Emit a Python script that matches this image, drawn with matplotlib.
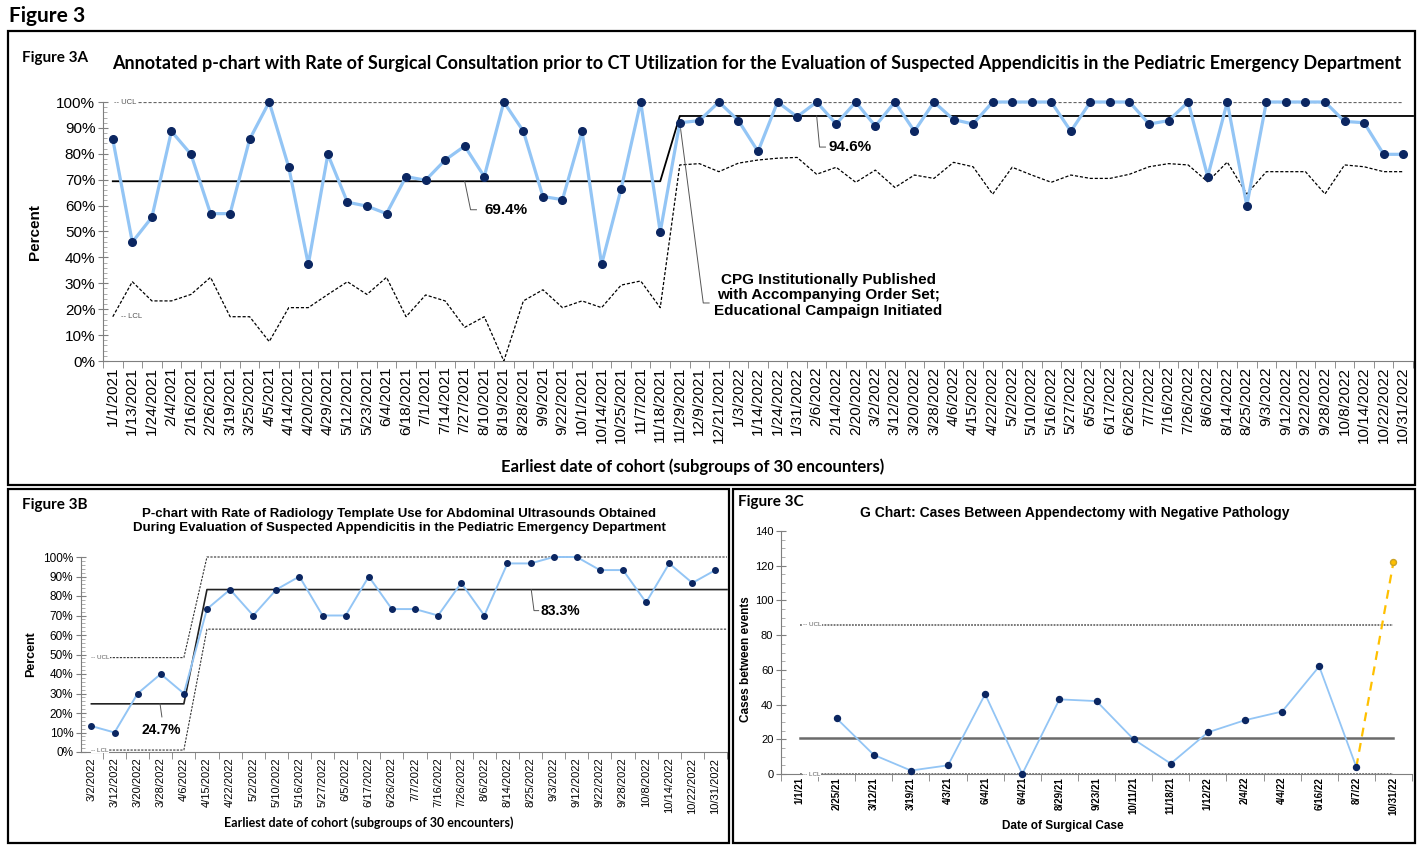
import numpy as np
import matplotlib
matplotlib.use('Agg')
import matplotlib.pyplot as plt
from matplotlib.patches import Rectangle
from matplotlib.ticker import MultipleLocator, FixedLocator, PercentFormatter

W, H = 1422, 846

# ---- Figure 3A data ----
a_dates = ['1/1/2021', '1/13/2021', '1/24/2021', '2/4/2021', '2/16/2021', '2/26/2021', '3/19/2021',
           '3/25/2021', '4/5/2021', '4/14/2021', '4/20/2021', '4/29/2021', '5/12/2021', '5/23/2021',
           '6/4/2021', '6/18/2021', '7/1/2021', '7/14/2021', '7/27/2021', '8/10/2021', '8/19/2021',
           '8/28/2021', '9/9/2021', '9/22/2021', '10/1/2021', '10/14/2021', '10/25/2021', '11/7/2021',
           '11/18/2021', '11/29/2021', '12/9/2021', '12/21/2021', '1/3/2022', '1/14/2022', '1/24/2022',
           '1/31/2022', '2/6/2022', '2/14/2022', '2/20/2022', '3/2/2022', '3/12/2022', '3/20/2022',
           '3/28/2022', '4/6/2022', '4/15/2022', '4/22/2022', '5/2/2022', '5/10/2022', '5/16/2022',
           '5/27/2022', '6/5/2022', '6/17/2022', '6/26/2022', '7/7/2022', '7/16/2022', '7/26/2022',
           '8/6/2022', '8/14/2022', '8/25/2022', '9/3/2022', '9/12/2022', '9/22/2022', '9/28/2022',
           '10/8/2022', '10/14/2022', '10/22/2022', '10/31/2022']
a_rate = [85.6, 45.9, 55.5, 88.7, 79.8, 56.9, 56.9, 85.6, 100, 74.8,
          37.3, 79.8, 61.3, 59.8, 56.9, 71.2, 69.8, 77.6, 83.0, 71.2,
          100, 88.7, 63.5, 62.3, 88.7, 37.3, 66.5, 100, 49.8, 92.0,
          92.8, 100, 92.8, 80.9, 100, 94.3, 100, 91.5, 100, 90.7,
          100, 88.7, 100, 93.2, 91.5, 100, 100, 100, 100, 88.7,
          100, 100, 100, 91.5, 92.8, 100, 71.2, 100, 60.0, 100,
          100, 100, 100, 92.5, 92.0, 79.8, 79.8]
a_lcl = [17.1, 30.6, 23.2, 23.2, 25.7, 32.3, 17.1, 17.1, 7.5, 20.6,
         20.6, 25.7, 30.6, 25.7, 32.3, 17.1, 25.5, 23.2, 13.0, 17.1,
         0.0, 23.2, 27.5, 20.6, 23.2, 20.6, 29.3, 30.9, 20.6, 75.7,
         76.2, 73.1, 76.4, 77.6, 78.3, 78.6, 72.1, 74.8, 69.0, 73.7,
         67.0, 71.8, 70.5, 76.7, 75.0, 64.4, 74.8, 71.8, 69.0, 71.8,
         70.5, 70.5, 72.1, 75.0, 76.2, 75.7, 69.2, 76.8, 64.5, 73.1,
         73.1, 73.1, 64.5, 75.7, 75.0, 73.1, 73.1]
a_ucl = 100
a_cl = [69.4, 94.6]
a_shift = 29

# ---- Figure 3B data ----
b_dates = ['3/2/2022', '3/12/2022', '3/20/2022', '3/28/2022', '4/6/2022', '4/15/2022', '4/22/2022',
           '5/2/2022', '5/10/2022', '5/16/2022', '5/27/2022', '6/5/2022', '6/17/2022', '6/26/2022',
           '7/7/2022', '7/16/2022', '7/26/2022', '8/6/2022', '8/14/2022', '8/25/2022', '9/3/2022',
           '9/12/2022', '9/22/2022', '9/28/2022', '10/8/2022', '10/14/2022', '10/22/2022', '10/31/2022']
b_rate = [13.3, 10, 30, 40, 30, 73.3, 83.3, 70, 83.3, 90, 70, 70, 90, 73.3,
          73.3, 70, 86.7, 70, 96.7, 96.7, 100, 100, 93.3, 93.3, 76.7, 96.7, 86.7, 93.3]
b_cl = [24.7, 83.3]
b_ucl = [48.4, 100]
b_lcl = [1.0, 63.0]
b_shift = 5

# ---- Figure 3C data ----
c_dates = ['1/1/21', '2/25/21', '3/12/21', '3/19/21', '4/3/21', '6/4/21', '6/4/21', '8/29/21',
           '9/23/21', '10/11/21', '11/18/21', '1/12/22', '2/4/22', '4/4/22', '6/16/22', '8/7/22',
           '10/31/22']
c_cases = [np.nan, 32, 11, 2, 5, 46, 0, 43, 42, 20, 6, 24, 31, 36, 62, 4]
c_current = 122
c_cl = 21
c_ucl = 86
c_lcl = 0

LINE = '#93C5F5'
DOT = '#0B2661'
CALIBRI = ['Lato', 'DejaVu Sans']
ARIAL = ['Liberation Sans', 'DejaVu Sans']


def px(x, y):
    return x / W, 1 - y / H


def add_axes(x0, y0, x1, y1):
    l, t = px(x0, y0)
    r, b = px(x1, y1)
    return fig.add_axes([l, b, r - l, t - b])


def style_axes(ax, n, labels, lab_size, lab_weight='normal', pad=4):
    for s in ['top', 'right']:
        ax.spines[s].set_visible(False)
    for s in ['left', 'bottom']:
        ax.spines[s].set_color('#7f7f7f')
    ax.set_xticks(range(n))
    ax.set_xticklabels(labels, rotation=90, fontsize=lab_size, family=ARIAL, weight=lab_weight)
    ax.tick_params(axis='x', length=0, pad=pad)
    ax.xaxis.set_minor_locator(FixedLocator(np.arange(n + 1) - 0.5))
    ax.tick_params(axis='x', which='minor', length=5, direction='out', color='#7f7f7f')
    ax.tick_params(axis='y', which='major', direction='inout', length=7, color='#7f7f7f', pad=2)
    ax.tick_params(axis='y', which='minor', direction='in', length=3, color='#a0a0a0')


def limit_label(ax, x, y, txt, size):
    ax.text(x, y, '-- ' + txt, fontsize=size, color='#555555', family=ARIAL, va='center', ha='left',
            bbox=dict(facecolor='white', edgecolor='none', pad=0.3), zorder=3)


fig = plt.figure(figsize=(W / 100, H / 100), dpi=100)

# panel frames
for (x0, y0, x1, y1) in [(8, 31, 1415, 485), (8, 489, 729, 843), (733, 489, 1415, 843)]:
    l, t = px(x0, y0)
    r, b = px(x1, y1)
    fig.add_artist(Rectangle((l, b), r - l, t - b, transform=fig.transFigure,
                             fill=False, edgecolor='black', lw=1.6))

fig.text(*px(9, 16), 'Figure 3', fontsize=15, weight='bold', family=CALIBRI, va='center')

# ================= Figure 3A =================
ax = add_axes(103, 102, 1413, 361)
na = len(a_dates)
xa = np.arange(na)
ax.plot(xa, a_lcl, color='black', ls=(0, (2.5, 1.5)), lw=0.9, zorder=1)
ax.plot(xa, [a_ucl] * na, color='#666666', ls=(0, (2.5, 1.5)), lw=0.9, zorder=1)
cl_x = [0, a_shift - 1, a_shift, na - 0.5]
cl_y = [a_cl[0], a_cl[0], a_cl[1], a_cl[1]]
ax.plot(cl_x, cl_y, color='black', lw=1.3, zorder=2, clip_on=False)
ax.plot(xa, a_rate, color=LINE, lw=2.3, marker='o', markersize=5.5, markerfacecolor=DOT,
        markeredgecolor=DOT, zorder=4, clip_on=False)
ax.set_xlim(-0.5, na - 0.5)
ax.set_ylim(0, 100)
ax.yaxis.set_major_locator(MultipleLocator(10))
ax.yaxis.set_minor_locator(MultipleLocator(2))
ax.yaxis.set_major_formatter(PercentFormatter(decimals=0))
style_axes(ax, na, a_dates, 11)
for t in ax.get_yticklabels():
    t.set_fontsize(11)
    t.set_family(ARIAL)
limit_label(ax, 0.05, a_ucl, 'UCL', 5.5)
limit_label(ax, 0.4, a_lcl[0], 'LCL', 5.5)
# annotations
ax.plot([18.0, 18.3, 18.6], [a_cl[0], 58.4, 58.4], color='#555555', lw=0.7)
ax.text(19.0, 58.4, '69.4%', fontsize=11, weight='bold', family=ARIAL, va='center')
ax.plot([36.0, 36.15, 36.45], [a_cl[1], 82.6, 82.6], color='#555555', lw=0.7)
ax.text(36.6, 82.6, '94.6%', fontsize=11, weight='bold', family=ARIAL, va='center')
ax.plot([a_shift, 30.2, 30.5], [a_rate[a_shift], 22.4, 22.4], color='#555555', lw=0.7, zorder=3)
ax.text(36.6, 25.3, 'CPG Institutionally Published\nwith Accompanying Order Set;\nEducational Campaign Initiated',
        fontsize=11, weight='bold', family=ARIAL, ha='center', va='center', linespacing=1.15)

fig.text(*px(22, 58), 'Figure 3A', fontsize=11, weight='bold', family=CALIBRI, va='center')
fig.text(*px(757, 64), 'Annotated p-chart with Rate of Surgical Consultation prior to CT Utilization for the '
         'Evaluation of Suspected Appendicitis in the Pediatric Emergency Department',
         fontsize=13, weight='bold', family=CALIBRI, ha='center', va='center')
fig.text(*px(35, 232), 'Percent', fontsize=11, weight='bold', family=ARIAL, rotation=90,
         ha='center', va='center')
fig.text(*px(693, 467), 'Earliest date of cohort (subgroups of 30 encounters)', fontsize=12,
         weight='bold', family=CALIBRI, ha='center', va='center')

# ================= Figure 3B =================
bx = add_axes(81, 557, 727, 752)
nb = len(b_dates)
xb = np.arange(nb)
s = b_shift
step_x = [0, s - 1, s, nb - 0.5]
bx.plot(step_x, [b_ucl[0], b_ucl[0], b_ucl[1], b_ucl[1]], color='#333333', ls=(0, (2, 1.2)), lw=0.8,
        clip_on=False)
bx.plot(step_x, [b_lcl[0], b_lcl[0], b_lcl[1], b_lcl[1]], color='#333333', ls=(0, (2, 1.2)), lw=0.8,
        clip_on=False)
bx.plot(step_x, [b_cl[0], b_cl[0], b_cl[1], b_cl[1]], color='#222222', lw=1.2, clip_on=False)
bx.plot(xb, b_rate, color=LINE, lw=1.4, marker='o', markersize=4, markerfacecolor=DOT,
        markeredgecolor=DOT, zorder=4, clip_on=False)
bx.set_xlim(-0.45, nb - 0.5)
bx.set_ylim(0, 100)
bx.yaxis.set_major_locator(MultipleLocator(10))
bx.yaxis.set_minor_locator(MultipleLocator(2))
bx.yaxis.set_major_formatter(PercentFormatter(decimals=0))
style_axes(bx, nb, b_dates, 8)
for t in bx.get_yticklabels():
    t.set_fontsize(8.5)
    t.set_family(ARIAL)
limit_label(bx, 0.0, b_ucl[0], 'UCL', 4.5)
limit_label(bx, 0.0, b_lcl[0], 'LCL', 4.5)
bx.plot([2.97, 3.05], [b_cl[0], 18.0], color='#555555', lw=0.7)
bx.text(3.03, 11.3, '24.7%', fontsize=10, weight='bold', family=ARIAL, ha='center', va='center')
bx.plot([19.03, 19.15, 19.35], [b_cl[1], 72.5, 72.5], color='#555555', lw=0.7)
bx.text(19.45, 72.5, '83.3%', fontsize=10, weight='bold', family=ARIAL, va='center')

fig.text(*px(22, 505), 'Figure 3B', fontsize=11, weight='bold', family=CALIBRI, va='center')
fig.text(*px(399, 521), 'P-chart with Rate of Radiology Template Use for Abdominal Ultrasounds Obtained\n'
         'During Evaluation of Suspected Appendicitis in the Pediatric Emergency Department',
         fontsize=9.5, weight='bold', family=ARIAL, ha='center', va='center', linespacing=1.25)
fig.text(*px(31, 654), 'Percent', fontsize=9, weight='bold', family=ARIAL, rotation=90,
         ha='center', va='center')
fig.text(*px(369, 823), 'Earliest date of cohort (subgroups of 30 encounters)', fontsize=9,
         weight='bold', family=CALIBRI, ha='center', va='center')

# ================= Figure 3C =================
cx = add_axes(781, 531, 1412, 774)
nc = len(c_dates)
xc = np.arange(nc)
cx.plot(xc, [c_ucl] * nc, color='#555555', ls=(0, (1.2, 0.8)), lw=1.1)
cx.plot(xc, [c_lcl] * nc, color='#555555', ls=(0, (1.2, 0.8)), lw=1.1, clip_on=False)
cx.plot(xc, [c_cl] * nc, color='#6b6b6b', lw=1.8)
xcases = np.arange(len(c_cases))
cx.plot(xcases, c_cases, color=LINE, lw=1.3, marker='o', markersize=4.3, markerfacecolor=DOT,
        markeredgecolor=DOT, zorder=4, clip_on=False)
cx.plot([xcases[-1], nc - 1], [c_cases[-1], c_current], color='#FFC000', ls=(0, (4, 3)), lw=1.6, zorder=3)
cx.plot([nc - 1], [c_current], marker='o', markersize=4.3, markerfacecolor='#FFC000',
        markeredgecolor='#C9A227', zorder=5)
cx.set_xlim(-0.5, nc - 0.5)
cx.set_ylim(0, 140)
cx.yaxis.set_major_locator(MultipleLocator(20))
cx.yaxis.set_minor_locator(MultipleLocator(5))
style_axes(cx, nc, c_dates, 7, 'bold', pad=2)
for t in cx.get_yticklabels():
    t.set_fontsize(8)
    t.set_family(ARIAL)
limit_label(cx, 0.1, c_ucl, 'UCL', 4.5)
limit_label(cx, 0.1, c_lcl, 'LCL', 4.5)

fig.text(*px(738, 502), 'Figure 3C', fontsize=11, weight='bold', family=CALIBRI, va='center')
fig.text(*px(1075, 513), 'G Chart: Cases Between Appendectomy with Negative Pathology',
         fontsize=10, weight='bold', family=ARIAL, ha='center', va='center')
fig.text(*px(746, 659), 'Cases between events', fontsize=8.5, weight='bold', family=ARIAL, rotation=90,
         ha='center', va='center')
fig.text(*px(1063, 826), 'Date of Surgical Case', fontsize=8.5, weight='bold', family=ARIAL,
         ha='center', va='center')

fig.savefig('out.png', dpi=100)
